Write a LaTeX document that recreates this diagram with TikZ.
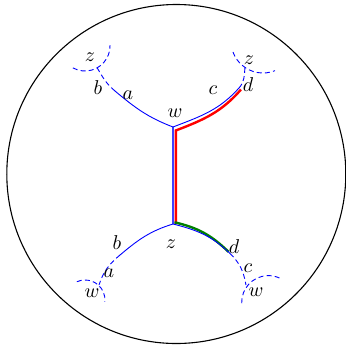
\documentclass[tikz,border=0pt]{standalone}
\usepackage{amsmath}
\usepackage{tikz}
\usetikzlibrary{arrows.meta, positioning}

\begin{document}
\begin{tikzpicture}[x=0.5pt, y=0.5pt,
  geo/.style  = {draw=blue, line width=0.45pt},
  geod/.style = {draw=blue, line width=0.45pt, dash pattern=on 2.5pt off 1.6pt},
  hilite/.style = {line width=1.2pt},
  lbl/.style  = {inner sep=0pt, font=\normalsize}
]
  \useasboundingbox (0,0) rectangle (346,-349);

  %% Boundary circle
  \node[draw, circle, line width=0.55pt, minimum size=169.5pt, inner sep=0pt]
    (disk) at (176.3,-174) {};

  %% Vertices and ends
  \coordinate (w)  at (173,-127);
  \coordinate (z)  at (173,-224);
  \coordinate (p1) at (115,-91);
  \coordinate (j1) at (97,-67.5);
  \coordinate (p2) at (239,-88);
  \coordinate (j2) at (245,-67);
  \coordinate (p3) at (120,-255);
  \coordinate (j3) at (99,-285);
  \coordinate (p4) at (230,-253.5);
  \coordinate (j4) at (246,-285);

  %% Highlights
  \coordinate (r0) at (175.8,-224);
  \coordinate (r1) at (175.8,-130.5);
  \coordinate (r2) at (241,-89.5);
  \draw[red, hilite] (r0) -- (r1) to[out=21, in=229] (r2);
  \coordinate (g0) at (174.5,-222.3);
  \coordinate (g1) at (228.5,-251.8);
  \draw[green!50!black, hilite] (g0) to[out=-13, in=136] (g1);

  %% Geodesics
  \draw[geo, line width=0.7pt, blue!75] (w) -- (z);
  \draw[geo]  (w)  to[out=159, in=-40] (p1);
  \draw[geod] (p1) to[out=140, in=-60] (j1);
  \draw[geo]  (w)  to[out=21, in=228]  (p2);
  \draw[geod] (p2) to[out=48, in=265]  (j2);
  \draw[geo]  (z)  to[out=197, in=40]  (p3);
  \draw[geod] (p3) to[out=220, in=72]  (j3);
  \draw[geo]  (z)  to[out=-14, in=136] (p4);
  \draw[geod] (p4) to[out=-44, in=100] (j4);

  %% Neighbouring edges
  \draw[geod] (85,-46)      ++(241:25)   arc[start angle=241, end angle=362, radius=25];
  \draw[geod] (263,-41)     ++(200:32)   arc[start angle=200, end angle=292, radius=32];
  \draw[geod] (85,-300)     ++(114:20)   arc[start angle=114, end angle=-5, radius=20];
  \draw[geod] (268.4,-302.3) ++(182:26.7) arc[start angle=182, end angle=64, radius=26.7];

  %% Labels
  \node[lbl] (lz1) at (90,-57)   {$z$};
  \node[lbl] (lb1) at (98,-88)   {$b$};
  \node[lbl] (la1) at (128,-95)  {$a$};
  \node[lbl] (lw1) at (175,-113) {$w$};
  \node[lbl] (lc1) at (213,-90)  {$c$};
  \node[lbl] (ld1) at (248,-85)  {$d$};
  \node[lbl] (lz2) at (249,-60)  {$z$};
  \node[lbl] (lb2) at (117,-243) {$b$};
  \node[lbl] (lz3) at (171,-244) {$z$};
  \node[lbl] (ld2) at (234,-247) {$d$};
  \node[lbl] (la2) at (109,-273) {$a$};
  \node[lbl] (lc2) at (248,-268) {$c$};
  \node[lbl] (lw2) at (92,-293)  {$w$};
  \node[lbl] (lw3) at (256,-292) {$w$};
\end{tikzpicture}
\end{document}
